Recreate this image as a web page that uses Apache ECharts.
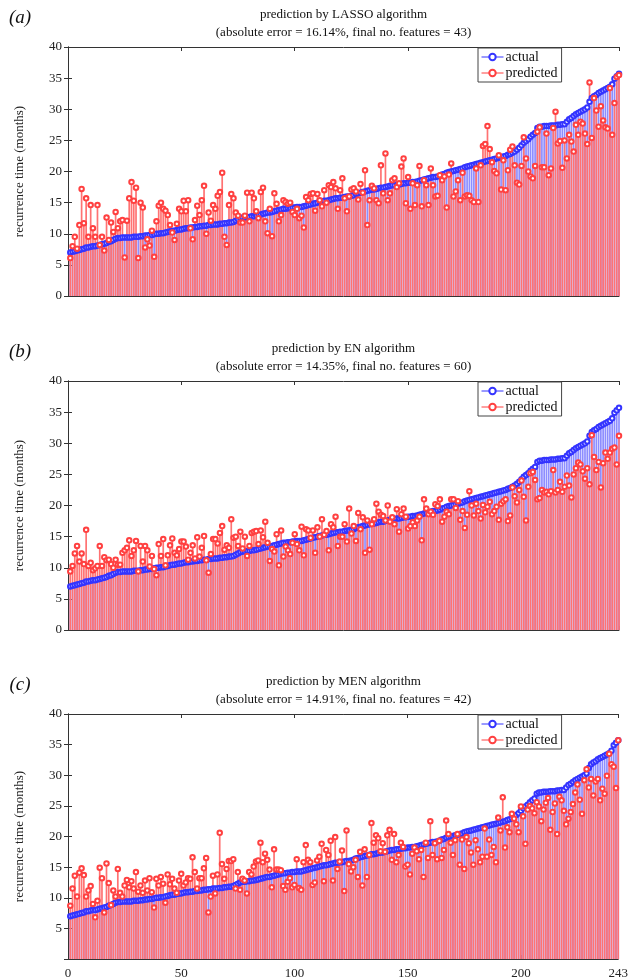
<!DOCTYPE html>
<html>
<head>
<meta charset="utf-8">
<script src="https://cdn.jsdelivr.net/npm/echarts@6/dist/echarts.min.js"></script>
<style>
  html, body { margin: 0; padding: 0; background: #fff; }
  #chart { width: 631px; height: 980px; }
</style>
</head>
<body>
<div id="chart"></div>
<script>
// actual recurrence time (months), sorted
const actual = [
  7.0, 7.1, 7.2, 7.3, 7.4, 7.5, 7.6, 7.8, 7.8, 7.9,
  8.0, 8.0, 8.1, 8.2, 8.3, 8.4, 8.5, 8.7, 8.8, 9.0,
  9.2, 9.3, 9.3, 9.4, 9.4, 9.4, 9.4, 9.4, 9.5, 9.5,
  9.5, 9.6, 9.6, 9.7, 9.7, 9.8, 9.8, 9.9, 10.0, 10.0,
  10.1, 10.1, 10.2, 10.3, 10.4, 10.5, 10.5, 10.6, 10.7, 10.7,
  10.8, 10.9, 10.9, 11.0, 11.0, 11.1, 11.1, 11.2, 11.2, 11.3,
  11.3, 11.4, 11.4, 11.5, 11.5, 11.5, 11.6, 11.6, 11.7, 11.7,
  11.8, 11.8, 11.9, 12.1, 12.3, 12.5, 12.6, 12.6, 12.7, 12.7,
  12.8, 12.8, 12.9, 13.0, 13.1, 13.2, 13.3, 13.4, 13.4, 13.5,
  13.6, 13.7, 13.8, 13.9, 14.0, 14.0, 14.1, 14.1, 14.2, 14.2,
  14.3, 14.3, 14.3, 14.4, 14.5, 14.6, 14.7, 14.8, 14.9, 15.0,
  15.1, 15.2, 15.3, 15.3, 15.4, 15.5, 15.6, 15.7, 15.7, 15.8,
  15.8, 15.9, 16.0, 16.0, 16.1, 16.2, 16.4, 16.5, 16.6, 16.7,
  16.8, 16.9, 17.0, 17.1, 17.1, 17.2, 17.3, 17.4, 17.4, 17.5,
  17.6, 17.7, 17.8, 17.8, 17.9, 17.9, 18.0, 18.1, 18.1, 18.2,
  18.2, 18.3, 18.3, 18.4, 18.5, 18.6, 18.7, 18.8, 18.9, 19.0,
  19.1, 19.1, 19.2, 19.3, 19.5, 19.6, 19.8, 19.9, 20.0, 20.1,
  20.2, 20.3, 20.4, 20.5, 20.7, 20.8, 20.9, 21.0, 21.1, 21.2,
  21.3, 21.4, 21.5, 21.6, 21.7, 21.8, 21.9, 22.0, 22.1, 22.2,
  22.3, 22.4, 22.5, 22.7, 22.8, 23.0, 23.2, 23.5, 23.8, 24.2,
  24.6, 24.9, 25.2, 25.6, 25.9, 26.2, 27.0, 27.2, 27.2, 27.3,
  27.3, 27.3, 27.4, 27.4, 27.4, 27.5, 27.5, 27.6, 27.6, 28.0,
  28.4, 28.6, 28.9, 29.2, 29.4, 29.6, 29.8, 30.0, 30.3, 31.2,
  31.8, 32.1, 32.3, 32.6, 32.8, 33.0, 33.2, 33.4, 33.6, 34.0,
  34.9, 35.3, 35.7
];

const predLasso = [
  6.1, 8.0, 9.5, 7.6, 11.4, 17.2, 11.7, 15.7, 9.5, 14.6,
  10.9, 9.5, 14.6, 8.2, 9.5, 7.3, 12.6, 9.0, 11.8, 10.3,
  13.5, 10.9, 12.0, 12.2, 6.2, 12.1, 15.7, 18.3, 15.3, 17.4,
  6.1, 15.0, 14.2, 7.8, 9.1, 8.1, 10.5, 6.3, 12.0, 14.5,
  15.0, 14.0, 13.7, 13.0, 11.4, 10.2, 9.0, 11.6, 14.0, 13.6,
  15.3, 13.6, 15.4, 10.9, 9.1, 12.2, 14.5, 13.0, 15.4, 17.7,
  10.0, 13.4, 12.1, 14.6, 14.0, 16.1, 16.7, 19.8, 9.5, 8.2,
  14.6, 16.4, 15.7, 13.4, 12.9, 11.8, 11.8, 12.9, 16.6, 12.0,
  16.6, 15.7, 13.6, 12.5, 16.7, 17.4, 12.0, 10.1, 14.0, 9.6,
  16.5, 14.8, 12.0, 13.0, 15.4, 15.1, 14.8, 15.0, 13.5, 13.0,
  14.0, 12.5, 12.9, 11.0, 15.9, 15.4, 16.4, 16.5, 13.7, 16.4,
  15.4, 14.4, 17.0, 15.0, 17.8, 17.5, 18.3, 17.3, 14.0, 17.0,
  18.9, 15.7, 13.6, 16.0, 17.1, 17.3, 16.8, 15.5, 18.0, 16.6,
  20.2, 11.4, 15.4, 17.7, 17.3, 15.4, 14.9, 21.0, 16.5, 22.9,
  15.4, 16.5, 18.6, 18.9, 17.5, 18.1, 20.8, 22.1, 14.9, 19.1,
  14.0, 18.1, 14.6, 17.8, 20.9, 14.4, 18.6, 17.8, 14.6, 20.5,
  17.8, 16.0, 16.1, 19.4, 18.6, 19.2, 14.2, 19.5, 21.3, 16.0,
  16.8, 18.6, 15.4, 19.8, 16.0, 16.2, 16.1, 15.4, 15.1, 20.5,
  15.1, 21.0, 24.1, 24.4, 27.3, 23.6, 21.5, 20.1, 19.7, 22.6,
  17.1, 21.8, 17.0, 20.2, 23.5, 24.0, 21.0, 18.2, 17.9, 20.9,
  25.5, 22.1, 20.0, 19.2, 18.9, 20.9, 26.4, 27.1, 20.7, 20.7,
  26.1, 19.4, 20.5, 27.0, 29.6, 24.5, 24.9, 20.6, 25.0, 22.1,
  25.9, 24.8, 23.2, 27.5, 25.9, 28.0, 27.7, 26.1, 24.4, 34.3,
  25.4, 31.8, 29.8, 27.2, 30.5, 28.2, 27.1, 26.9, 33.4, 25.9,
  31.0, 35.2, 35.5
];

const predEN = [
  9.4, 10.3, 12.3, 13.5, 11.0, 12.3, 10.6, 16.1, 10.3, 10.8,
  9.6, 9.9, 10.3, 13.5, 10.3, 11.7, 11.2, 11.3, 10.6, 10.0,
  11.3, 10.5, 10.5, 12.4, 12.8, 13.2, 14.4, 11.9, 12.8, 14.3,
  9.4, 13.5, 11.0, 13.5, 12.8, 10.2, 11.9, 9.8, 8.8, 13.8,
  11.9, 14.6, 10.4, 12.0, 13.6, 14.7, 12.4, 12.0, 13.0, 14.2,
  14.2, 13.4, 11.3, 12.4, 13.6, 11.5, 14.9, 11.8, 13.2, 15.1,
  11.2, 9.2, 12.2, 14.6, 14.6, 13.9, 15.6, 16.7, 12.9, 13.6,
  13.2, 17.8, 14.8, 15.0, 13.5, 15.8, 13.1, 15.0, 11.9, 13.5,
  15.6, 15.8, 15.9, 13.8, 16.0, 14.9, 17.4, 14.0, 11.1, 13.0,
  12.6, 15.4, 10.4, 16.0, 11.8, 13.4, 12.8, 12.2, 14.0, 15.4,
  13.8, 12.8, 16.6, 12.0, 16.2, 16.0, 14.8, 16.0, 12.4, 16.5,
  15.0, 17.8, 15.3, 15.9, 12.8, 17.0, 16.5, 18.2, 13.5, 15.0,
  15.0, 17.0, 14.2, 19.5, 15.5, 16.7, 14.3, 18.8, 16.2, 18.1,
  12.4, 17.6, 12.9, 17.0, 17.8, 20.3, 19.0, 18.5, 18.3, 17.6,
  20.0, 17.4, 18.1, 17.0, 19.4, 15.8, 18.6, 19.5, 18.2, 16.3,
  16.7, 17.3, 16.7, 17.6, 18.2, 14.4, 21.0, 19.5, 18.6, 19.0,
  18.5, 20.2, 19.9, 21.0, 17.4, 18.2, 19.0, 18.6, 21.0, 21.0,
  19.6, 20.7, 17.7, 19.1, 16.4, 18.5, 22.3, 20.0, 18.4, 20.3,
  19.1, 17.9, 20.1, 18.9, 19.8, 20.6, 18.6, 19.1, 19.8, 17.7,
  20.3, 20.7, 21.0, 17.5, 18.4, 22.9, 21.5, 20.5, 22.5, 24.0,
  21.4, 17.6, 23.0, 25.2, 25.4, 24.1, 21.0, 21.2, 22.5, 22.1,
  22.2, 21.8, 22.3, 25.7, 22.1, 22.5, 23.8, 22.2, 23.0, 24.8,
  23.2, 21.3, 25.0, 26.0, 26.9, 26.6, 25.5, 24.3, 26.0, 23.4,
  31.3, 27.8, 25.7, 27.0, 22.9, 26.8, 28.5, 27.5, 28.5, 29.1,
  29.3, 26.6, 31.2
];

const predMEN = [
  8.7, 11.5, 13.6, 10.2, 14.1, 14.8, 13.7, 10.2, 11.2, 11.9,
  9.0, 6.8, 9.5, 14.9, 13.2, 7.6, 15.6, 12.4, 8.8, 11.2,
  10.2, 14.7, 10.8, 10.2, 12.0, 12.9, 11.7, 12.7, 11.5, 14.2,
  11.0, 12.0, 10.8, 12.8, 11.2, 13.2, 10.9, 8.4, 13.1, 12.0,
  13.4, 12.3, 9.2, 13.8, 12.2, 13.1, 11.5, 10.8, 12.8, 13.9,
  12.0, 12.5, 13.2, 13.1, 16.6, 14.2, 11.5, 13.2, 13.2, 14.8,
  16.5, 7.6, 10.2, 13.6, 10.7, 13.8, 20.6, 15.5, 13.1, 14.7,
  16.0, 16.0, 16.3, 11.5, 14.2, 11.3, 13.1, 12.8, 10.7, 14.2,
  13.8, 15.1, 15.9, 16.1, 19.0, 15.8, 17.2, 16.2, 14.6, 11.7,
  17.9, 14.6, 14.6, 14.5, 11.9, 11.3, 12.6, 13.2, 11.7, 12.1,
  16.3, 11.6, 11.3, 15.8, 18.6, 16.2, 15.8, 12.1, 12.5, 16.1,
  16.7, 18.8, 12.7, 17.8, 17.0, 19.3, 12.8, 19.9, 14.7, 15.9,
  17.7, 11.1, 21.0, 15.5, 14.3, 15.0, 16.2, 13.4, 17.5, 12.0,
  17.9, 13.4, 17.0, 22.2, 19.0, 20.2, 19.7, 17.6, 18.9, 17.5,
  20.2, 21.1, 16.2, 20.4, 15.8, 17.0, 19.0, 18.3, 15.1, 15.4,
  13.8, 17.2, 18.2, 17.6, 16.3, 17.8, 13.4, 19.0, 16.5, 22.5,
  17.0, 18.9, 16.3, 19.3, 16.5, 17.8, 22.6, 20.4, 19.0, 17.0,
  19.4, 20.4, 15.4, 19.5, 14.7, 19.9, 18.9, 17.4, 15.4, 19.4,
  17.9, 15.8, 16.7, 21.3, 16.7, 19.5, 17.0, 18.3, 15.8, 23.1,
  21.0, 26.4, 18.2, 21.5, 20.7, 23.7, 22.9, 22.0, 20.7, 24.9,
  23.3, 18.8, 24.4, 25.0, 24.6, 23.8, 25.6, 24.9, 22.5, 24.4,
  25.5, 26.3, 21.1, 24.0, 25.4, 20.4, 26.5, 25.9, 24.2, 22.0,
  22.9, 24.0, 25.3, 27.2, 28.5, 26.0, 23.7, 29.2, 31.0, 28.0,
  29.4, 26.7, 29.0, 29.4, 25.9, 27.8, 27.0, 29.9, 33.5, 31.8,
  31.4, 27.9, 35.7
];

const panelTags = ['(a)', '(b)', '(c)'];
const methods = ['LASSO', 'EN', 'MEN'];
const absErrors = ['16.14', '14.35', '14.91'];
const nFeatures = ['43', '60', '42'];
const predictions = [predLasso, predEN, predMEN];
const xTicks = [0, 50, 100, 150, 200, 243];

const SERIF = 'Liberation Serif, Times New Roman, serif';
const AXIS = '#333';
const BLUE = '#3434ff';
const BLUE_STEM = '#8d8dff';
const RED = '#ff4040';
const RED_STEM = '#ff7272';

const tops = [47, 381, 714];
const heights = [249, 249, 248];
const plotLeft = 68, plotWidth = 551;

const grid = [], xAxis = [], yAxis = [], series = [], legend = [], graphic = [];

tops.forEach((top, k) => {
  const last = k === 2;
  grid.push({ left: plotLeft, top: top, width: plotWidth, height: heights[k] });

  const xBase = {
    type: 'value', gridIndex: k, min: 0, max: 243, interval: 50,
    axisLine: { show: true, onZero: false, lineStyle: { color: AXIS, width: 1 } },
    axisTick: { show: true, inside: true, length: 4, lineStyle: { color: AXIS } },
    splitLine: { show: false }
  };
  xAxis.push(Object.assign({}, xBase, {
    position: 'bottom',
    axisLabel: {
      show: last, margin: 8, color: '#222', fontFamily: SERIF, fontSize: 13,
      formatter: v => (xTicks.indexOf(Math.round(v)) >= 0 ? String(Math.round(v)) : '')
    }
  }));
  xAxis.push(Object.assign({}, xBase, { position: 'top', axisLabel: { show: false } }));

  const yBase = {
    type: 'value', gridIndex: k, min: 0, max: 40, interval: 5,
    axisLine: { show: true, lineStyle: { color: AXIS, width: 1 } },
    axisTick: { show: true, inside: true, length: 4, lineStyle: { color: AXIS } },
    splitLine: { show: false }
  };
  yAxis.push(Object.assign({}, yBase, {
    position: 'left',
    name: 'recurrence time (months)', nameLocation: 'middle', nameGap: 42,
    nameTextStyle: { fontFamily: SERIF, fontSize: 13, color: '#222' },
    axisLabel: { margin: 6, color: '#222', fontFamily: SERIF, fontSize: 13, showMinLabel: !last }
  }));
  yAxis.push(Object.assign({}, yBase, { position: 'right', axisLabel: { show: false } }));

  const xi = 2 * k, yi = 2 * k;
  const pred = predictions[k];
  const actPairs = actual.map((v, i) => [i + 1, v]);
  const predPairs = pred.map((v, i) => [i + 1, v]);

  series.push({
    type: 'bar', xAxisIndex: xi, yAxisIndex: yi, data: actPairs,
    barWidth: 1.7, barGap: '-100%', itemStyle: { color: BLUE_STEM }, silent: true, z: 1
  });
  series.push({
    type: 'bar', xAxisIndex: xi, yAxisIndex: yi, data: predPairs,
    barWidth: 1.7, barGap: '-100%', itemStyle: { color: RED_STEM }, silent: true, z: 2
  });
  series.push({
    name: 'actual', type: 'line', xAxisIndex: xi, yAxisIndex: yi, data: actPairs,
    symbol: 'emptyCircle', symbolSize: 4.5, showAllSymbol: true,
    itemStyle: { color: BLUE, borderWidth: 1 }, lineStyle: { color: BLUE, width: 1 },
    silent: true, z: 3
  });
  series.push({
    name: 'predicted', type: 'line', xAxisIndex: xi, yAxisIndex: yi, data: predPairs,
    symbol: 'emptyCircle', symbolSize: 4.5, showAllSymbol: true,
    itemStyle: { color: RED, borderWidth: 1 }, lineStyle: { color: RED, width: 0, opacity: 0 },
    silent: true, z: 4
  });

  legend.push({
    orient: 'vertical', left: 478, top: top + 1,
    itemWidth: 22, itemHeight: 8, itemGap: 2,
    padding: [2, 4, 2, 3],
    borderColor: '#444', borderWidth: 1, backgroundColor: '#fff',
    textStyle: { fontFamily: SERIF, fontSize: 14, color: '#111', padding: [0, 0, 0, -3] },
    data: [
      { name: 'actual', lineStyle: { color: BLUE, width: 1, opacity: 1 } },
      { name: 'predicted', lineStyle: { color: RED, width: 1, opacity: 1 } }
    ],
    selectedMode: false
  });

  const cx = plotLeft + plotWidth / 2;
  graphic.push({
    type: 'text', x: cx, y: top - 32,
    style: { text: 'prediction by ' + methods[k] + ' algorithm', font: '13px ' + SERIF,
             fill: '#111', textAlign: 'center', textVerticalAlign: 'middle' }
  });
  graphic.push({
    type: 'text', x: cx, y: top - 14,
    style: { text: '(absolute error = ' + absErrors[k] + '%, final no. features = ' + nFeatures[k] + ')',
             font: '13px ' + SERIF, fill: '#111', textAlign: 'center', textVerticalAlign: 'middle' }
  });
  graphic.push({
    type: 'text', x: 20, y: top - 29,
    style: { text: panelTags[k], font: 'italic 19px ' + SERIF, fill: '#111',
             textAlign: 'center', textVerticalAlign: 'middle' }
  });
});

const chart = echarts.init(document.getElementById('chart'));
chart.setOption({
  animation: false,
  backgroundColor: '#fff',
  grid: grid,
  xAxis: xAxis,
  yAxis: yAxis,
  legend: legend,
  graphic: graphic,
  series: series
});
</script>
</body>
</html>
